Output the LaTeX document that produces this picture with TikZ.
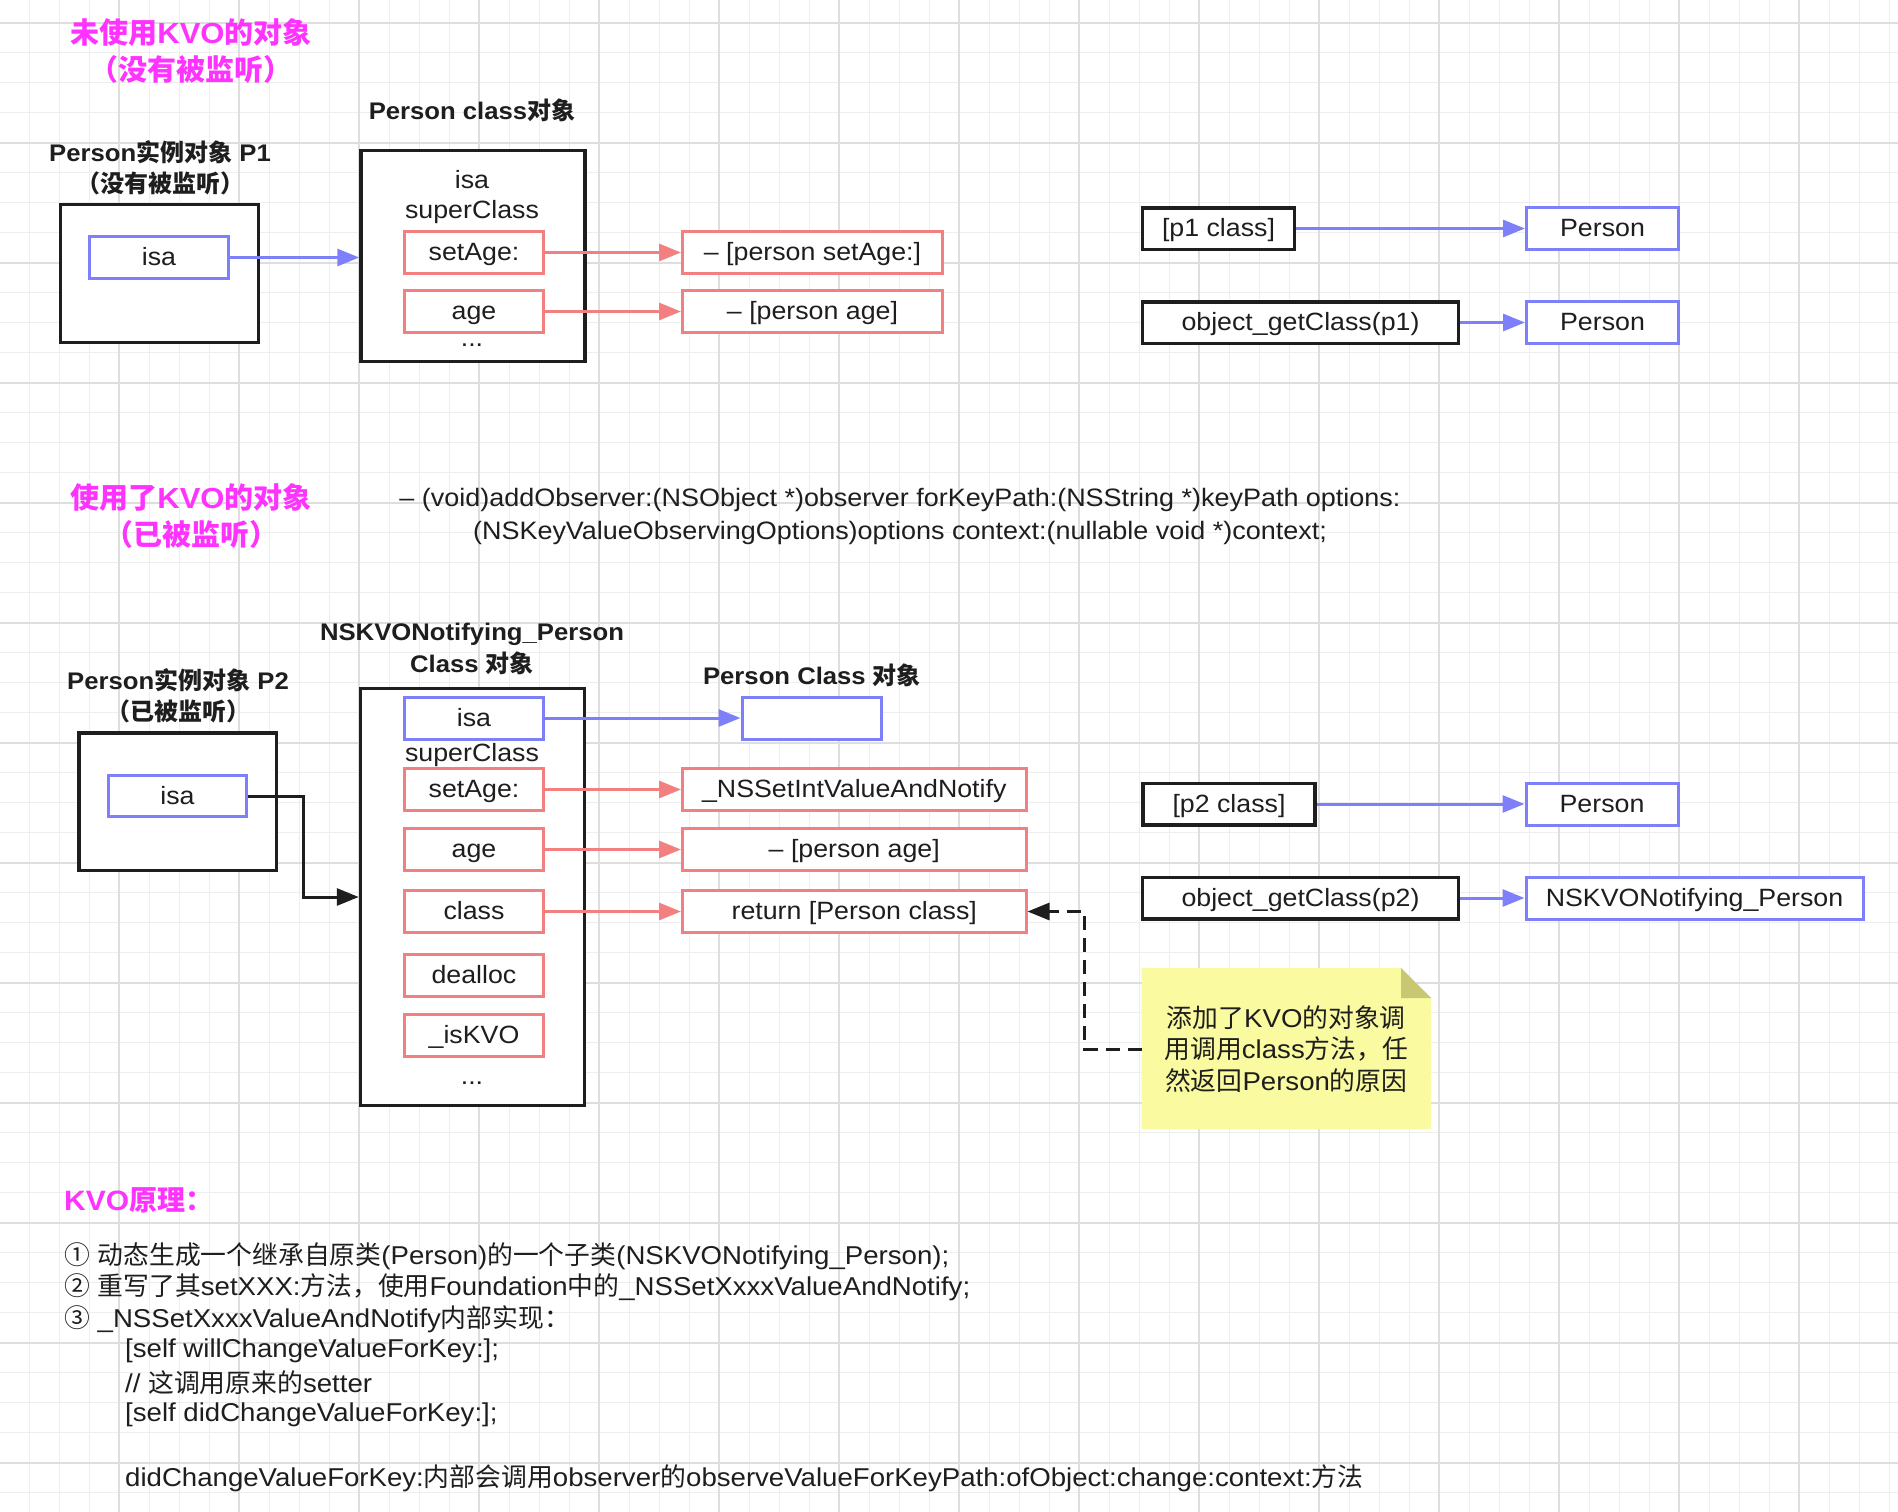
\documentclass[tikz,border=0pt]{standalone}
\usepackage{fontspec}
\setmainfont{Liberation Sans}[FakeStretch=1.07]
\newfontfamily\cjkfont{Noto Sans CJK SC}
\usetikzlibrary{arrows.meta}

% Switch to the CJK family automatically for ideographs and full-width marks
\XeTeXinterchartokenstate=1
\newXeTeXintercharclass\cjkcls
\newcount\cjkcnt
\def\cjkrange#1#2{\cjkcnt=#1\relax
  \loop\ifnum\cjkcnt<#2\relax\XeTeXcharclass\cjkcnt=\cjkcls\advance\cjkcnt by 1\repeat}
\cjkrange{"2460}{"2500}
\cjkrange{"3000}{"3040}
\cjkrange{"4E00}{"A000}
\cjkrange{"FF00}{"FFF0}
\XeTeXinterchartoks 0 \cjkcls = {\begingroup\cjkfont}
\XeTeXinterchartoks 4095 \cjkcls = {\begingroup\cjkfont}
\XeTeXinterchartoks \cjkcls 0 = {\endgroup}
\XeTeXinterchartoks \cjkcls 4095 = {\endgroup}

\definecolor{gridminor}{RGB}{238,238,238}
\definecolor{gridmajor}{RGB}{222,222,222}
\definecolor{bl}{RGB}{126,128,250}
\definecolor{rd}{RGB}{242,128,128}
\definecolor{ink}{RGB}{30,30,30}
\definecolor{mag}{RGB}{255,51,255}
\definecolor{notefill}{RGB}{250,250,160}
\definecolor{notefold}{RGB}{200,200,115}

\tikzset{
  txt/.style={font=\fontsize{25}{30}\selectfont, text=ink},
  boxtxt/.style={txt, text height=21, text depth=5},
  lbl/.style={font=\fontsize{24}{31.5}\selectfont\bfseries, text=ink, align=center},
  ttl/.style={font=\fontsize{29}{37}\selectfont\bfseries, text=mag, align=center},
  objbox/.style={draw=ink, line width=3.5, fill=white, inner sep=0},
  bluebox/.style={draw=bl, line width=3, fill=white, inner sep=0, boxtxt, minimum height=42},
  redbox/.style={draw=rd, line width=3, fill=white, inner sep=0, boxtxt, minimum height=42},
  keybox/.style={draw=ink, line width=3.5, fill=white, inner sep=0, boxtxt, minimum height=41.5},
  tip/.style={-{Triangle[length=22pt,width=17pt]}},
  bluearr/.style={draw=bl, line width=3, tip},
  redarr/.style={draw=rd, line width=3, tip},
  blkarr/.style={draw=ink, line width=3, tip},
  dasharr/.style={blkarr, dash pattern=on 14pt off 8pt},
  notetext/.style={font=\fontsize{25.8}{31.7}\selectfont, text=ink, align=center,
    minimum width=289, minimum height=161, inner sep=0},
  line/.style={font=\fontsize{25.8}{30}\selectfont, text=ink, anchor=west, inner sep=0}
}

\begin{document}
\begin{tikzpicture}[x=1pt,y=-1pt]
\useasboundingbox (0,0) rectangle (1898,1512);
\fill[white] (0,0) rectangle (1898,1512);

% squared paper
\foreach \k in {1,...,63} \draw[gridminor, line width=1.5] ({30*\k-0.7},0) -- ++(0,1512);
\foreach \k in {0,...,49} \draw[gridminor, line width=1.5] (0,{22.7+30*\k}) -- ++(1898,0);
\foreach \k in {1,...,15} \draw[gridmajor, line width=2] ({120*\k-0.7},0) -- ++(0,1512);
\foreach \k in {0,...,12} \draw[gridmajor, line width=2] (0,{22.7+120*\k}) -- ++(1898,0);

% ---------- object without KVO ----------
\node[ttl] (t1) at (191,51.5) {未使用KVO的对象\\（没有被监听）};
\node[lbl] (pcl) at (472,110) {Person class对象};
\node[lbl] (p1l) at (160,168) {Person实例对象 P1\\（没有被监听）};

\node[objbox, minimum width=198, minimum height=138] (p1) at (159.5,273.5) {};
\node[bluebox, minimum width=139] (p1isa) at (159,257.5) {isa};

\node[objbox, minimum width=224, minimum height=211] (pc) at (473,256) {};
\node[txt] (pcisa) at (472,180) {isa};
\node[txt] (pcsup) at (472,212) {superClass};
\node[redbox, minimum width=139] (pcset) at (474,252.5) {setAge:};
\node[redbox, minimum width=139] (pcage) at (474,311.5) {age};
\node[txt, anchor=base] (pcdots) at (472,346) {...};

\node[redbox, minimum width=260] (imset) at (812.5,252.5) {– [person setAge:]};
\node[redbox, minimum width=260] (image) at (812.5,311.5) {– [person age]};

\draw[bluearr] (p1isa.east) -- (pc.west |- p1isa.east);
\draw[redarr] (pcset.east) -- (imset.west);
\draw[redarr] (pcage.east) -- (image.west);

\node[keybox, minimum width=152] (p1cls) at (1218.5,228.5) {[p1 class]};
\node[bluebox, minimum width=152] (res1) at (1602.5,228.5) {Person};
\node[keybox, minimum width=316] (ogc1) at (1300.5,322.5) {object\_getClass(p1)};
\node[bluebox, minimum width=152] (res2) at (1602.5,322.5) {Person};
\draw[bluearr] (p1cls.east) -- (res1.west);
\draw[bluearr] (ogc1.east) -- (res2.west);

% ---------- object with KVO ----------
\node[ttl] (t2) at (191,516) {使用了KVO的对象\\（已被监听）};
\node[txt, align=center, font=\fontsize{25.2}{33}\selectfont] (sig) at (900,516.5)
  {– (void)addObserver:(NSObject *)observer forKeyPath:(NSString *)keyPath options:\\(NSKeyValueObservingOptions)options context:(nullable void *)context;};

\node[lbl] (nkl) at (472,649) {NSKVONotifying\_Person\\Class 对象};
\node[lbl] (p2l) at (178,696) {Person实例对象 P2\\（已被监听）};

\node[objbox, minimum width=197.5, minimum height=137.5] (p2) at (177.75,801.5) {};
\node[bluebox, minimum width=138, minimum height=41] (p2isa) at (177.5,796) {isa};

\node[objbox, minimum width=224, minimum height=417] (nk) at (472.5,897) {};
\node[bluebox, minimum width=139] (nkisa) at (474,718) {isa};
\node[txt] (nksup) at (472,755) {superClass};
\node[redbox, minimum width=139] (nkset) at (474,789.5) {setAge:};
\node[redbox, minimum width=139] (nkage) at (474,849.5) {age};
\node[redbox, minimum width=139] (nkcls) at (474,911.5) {class};
\node[redbox, minimum width=139] (nkdea) at (474,975.5) {dealloc};
\node[redbox, minimum width=139] (nkkvo) at (474,1035.5) {\_isKVO};
\node[txt, anchor=base] (nkdots) at (472,1084) {...};

\node[lbl] (pcl2) at (812,675) {Person Class 对象};
\node[bluebox, minimum width=139] (pcbox) at (811.5,718) {};
\node[redbox, minimum width=343.5] (nsset) at (854.25,789.5) {\_NSSetIntValueAndNotify};
\node[redbox, minimum width=343.5] (pag2) at (854.25,849.5) {– [person age]};
\node[redbox, minimum width=343.5] (rpc) at (854.25,911.5) {return [Person class]};

\draw[blkarr] (p2isa.east) -- ++(55.5,0) |- (nk.west);
\draw[bluearr] (nkisa.east) -- (pcbox.west);
\draw[redarr] (nkset.east) -- (nsset.west);
\draw[redarr] (nkage.east) -- (pag2.west);
\draw[redarr] (nkcls.east) -- (rpc.west);

\node[keybox, minimum width=172] (p2cls) at (1229,804) {[p2 class]};
\node[bluebox, minimum width=152] (res3) at (1602,804) {Person};
\node[keybox, minimum width=316] (ogc2) at (1300.5,898) {object\_getClass(p2)};
\node[bluebox, minimum width=337] (res4) at (1694.5,898) {NSKVONotifying\_Person};
\draw[bluearr] (p2cls.east) -- (res3.west);
\draw[bluearr] (ogc2.east) -- (res4.west);

% sticky note with folded corner
\fill[notefill] (1141.5,968) -- (1401,968) -- (1431,998) -- (1431,1129) -- (1141.5,1129) -- cycle;
\fill[notefold] (1401,968) -- (1401,998) -- (1431,998) -- cycle;
\node[notetext] (note) at (1286.25,1049) {添加了KVO的对象调\\用调用class方法，任\\然返回Person的原因};
\draw[dasharr] (note.west) -- ++(-57,0) |- (rpc.east);

% ---------- summary ----------
\node[anchor=west, inner sep=0, font=\fontsize{28}{30}\selectfont\bfseries, text=mag] (kvo) at (64,1200) {KVO原理：};
\node[line] (l1) at (64,1256) {① 动态生成一个继承自原类(Person)的一个子类(NSKVONotifying\_Person);};
\node[line] (l2) at (64,1287.5) {② 重写了其setXXX:方法，使用Foundation中的\_NSSetXxxxValueAndNotify;};
\node[line] (l3) at (64,1319) {③ \_NSSetXxxxValueAndNotify内部实现：};
\node[line] (l4) at (125,1351) {[self willChangeValueForKey:];};
\node[line] (l5) at (125,1383) {// 这调用原来的setter};
\node[line] (l6) at (125,1415) {[self didChangeValueForKey:];};
\node[line] (l7) at (125,1478) {didChangeValueForKey:内部会调用observer的observeValueForKeyPath:ofObject:change:context:方法};
\end{tikzpicture}
\end{document}
